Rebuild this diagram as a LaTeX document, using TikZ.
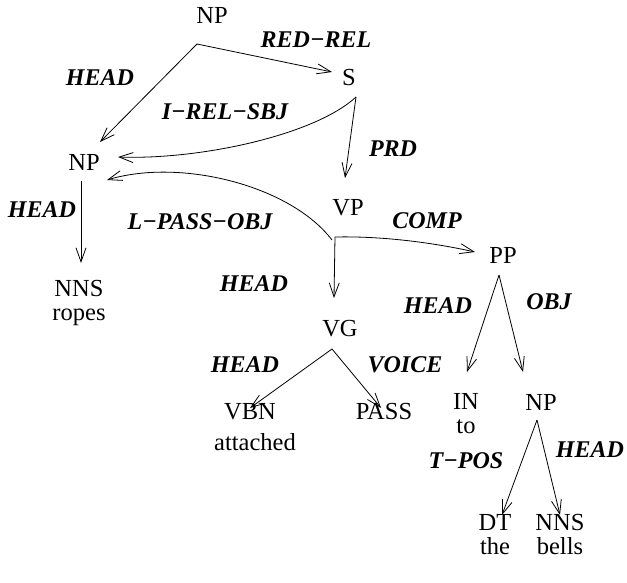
\documentclass[tikz,border=0pt]{standalone}
\usepackage{fontspec}
\setmainfont{Liberation Serif}
\usetikzlibrary{arrows.meta}
\tikzset{
  cat/.style={font=\fontsize{24.5}{24}\selectfont, align=center, inner sep=0pt},
  rel/.style={font=\bfseries\itshape\fontsize{24}{26}\selectfont, inner sep=0pt},
  edge/.style={line width=0.8pt, -{Straight Barb[length=14pt,width=10pt,line width=0.8pt]}},
}
\begin{document}
\begin{tikzpicture}[x=1pt,y=-1pt]
\useasboundingbox (0,0) rectangle (627,583);
% categories
\node[cat] (np1) at (212,15) {NP};
\node[cat] (s) at (349,78) {S};
\node[cat] (np2) at (84,162) {NP};
\node[cat] (vp) at (348,208) {VP};
\node[cat] (nns1) at (79,303) {NNS\\ropes};
\node[cat] (pp) at (503,255) {PP};
\node[cat] (vg) at (340,329) {VG};
\node[cat] (vbn) at (250,412) {VBN};
\node[cat] (attached) at (255,442) {attached};
\node[cat] (pass) at (384,412) {PASS};
\node[cat] (in) at (466,414) {IN\\to};
\node[cat] (np3) at (541,402) {NP};
\node[cat] (dt) at (495,535) {DT\\the};
\node[cat] (nns2) at (560,535) {NNS\\bells};
% relation labels
\node[rel] at (316,40) {RED−REL};
\node[rel] at (100,78) {HEAD};
\node[rel] at (225,112) {I−REL−SBJ};
\node[rel] at (393,149) {PRD};
\node[rel] at (42,210) {HEAD};
\node[rel] at (200,222) {L−PASS−OBJ};
\node[rel] at (427,221) {COMP};
\node[rel] at (254,284) {HEAD};
\node[rel] at (438,306) {HEAD};
\node[rel] at (549,302) {OBJ};
\node[rel] at (245,365) {HEAD};
\node[rel] at (405,365) {VOICE};
\node[rel] at (466,461) {T−POS};
\node[rel] at (590,450) {HEAD};
% attachment points
\coordinate (np1 o) at (197,44);
\coordinate (s i) at (332,72);
\coordinate (s o) at (356,97);
\coordinate (np2 i) at (100,142);
\coordinate (np2 l) at (118,157);
\coordinate (np2 m) at (107,180);
\coordinate (np2 o) at (81,181);
\coordinate (nns1 i) at (81,263);
\coordinate (vp i) at (345,178);
\coordinate (vp e) at (332,240);
\coordinate (vp o) at (335,237);
\coordinate (pp i) at (475,252);
\coordinate (pp o) at (499,275);
\coordinate (vg i) at (334,298);
\coordinate (vg o) at (332,349);
\coordinate (vbn i) at (250,408);
\coordinate (pass i) at (381,408);
\coordinate (in i) at (467,372);
\coordinate (np3 i) at (523,372);
\coordinate (np3 o) at (537,420);
\coordinate (dt i) at (502,515);
\coordinate (nns2 i) at (560,515);
% dependencies
\draw[edge] (np1 o) -- (s i);
\draw[edge] (np1 o) -- (np2 i);
\draw[edge] (s o) .. controls (315,135) and (200,160) .. (np2 l);
\draw[edge] (s o) -- (vp i);
\draw[edge] (np2 o) -- (nns1 i);
\draw[edge] (vp e) .. controls (290,185) and (180,158) .. (np2 m);
\draw[edge] (vp o) .. controls (380,236) and (430,242) .. (pp i);
\draw[edge] (vp o) -- (vg i);
\draw[edge] (pp o) -- (in i);
\draw[edge] (pp o) -- (np3 i);
\draw[edge] (vg o) -- (vbn i);
\draw[edge] (vg o) -- (pass i);
\draw[edge] (np3 o) -- (dt i);
\draw[edge] (np3 o) -- (nns2 i);
\end{tikzpicture}
\end{document}
